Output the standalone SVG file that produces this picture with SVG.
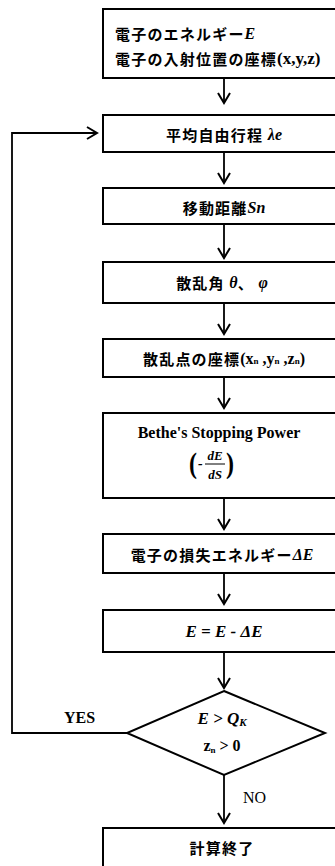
<svg xmlns="http://www.w3.org/2000/svg" width="335" height="866" viewBox="0 0 335 866">
<style>
.box{fill:#fff;stroke:#000;stroke-width:2}
.ln{fill:none;stroke:#000;stroke-width:1.8}
.jp{font-family:"Noto Sans CJK JP",sans-serif;font-weight:700;font-size:15px;letter-spacing:1.2px;fill:#000}
.m{font-family:"Liberation Serif",serif;font-weight:700;font-style:italic;letter-spacing:0}
.r{font-family:"Liberation Serif",serif;font-weight:700;letter-spacing:0}
.lbl{font-family:"Liberation Serif",serif;font-size:16px;fill:#000}
</style>
<defs>
<marker id="ah" viewBox="-1 -7 12 14" markerWidth="12" markerHeight="14" refX="10" refY="0" orient="auto" markerUnits="userSpaceOnUse" overflow="visible">
<path d="M0,-6 L10,0 L0,6" fill="none" stroke="#000" stroke-width="2"/>
</marker>
</defs>
<rect width="335" height="866" fill="#fff"/>
<g id="connectors">
<line class="ln" x1="224" y1="78" x2="224" y2="103" marker-end="url(#ah)"/>
<line class="ln" x1="224" y1="152" x2="224" y2="183" marker-end="url(#ah)"/>
<line class="ln" x1="224" y1="224" x2="224" y2="258" marker-end="url(#ah)"/>
<line class="ln" x1="224" y1="303" x2="224" y2="334" marker-end="url(#ah)"/>
<line class="ln" x1="224" y1="377" x2="224" y2="408" marker-end="url(#ah)"/>
<line class="ln" x1="224" y1="498" x2="224" y2="529" marker-end="url(#ah)"/>
<line class="ln" x1="224" y1="573" x2="224" y2="604" marker-end="url(#ah)"/>
<line class="ln" x1="224" y1="652" x2="224" y2="688" marker-end="url(#ah)"/>
<line class="ln" x1="224" y1="775" x2="224" y2="823" marker-end="url(#ah)"/>
<polyline class="ln" points="127,733 12,733 12,133 97,133" marker-end="url(#ah)"/>
<text class="lbl" x="64" y="723" font-weight="700" font-size="15">YES</text>
<text class="lbl" x="243" y="803" font-size="17">NO</text>
</g>
<g id="n1">
<rect class="box" x="103" y="9" width="245" height="69"/>
<text class="jp" x="115" y="33" dominant-baseline="central">電子のエネルギー<tspan class="m" font-size="16">E</tspan></text>
<text class="jp" x="115" y="58" dominant-baseline="central">電子の入射位置の座標<tspan class="r" font-size="17">(x,y,z)</tspan></text>
</g>
<g id="n2">
<rect class="box" x="103" y="115" width="245" height="37"/>
<text class="jp" x="224" y="134" text-anchor="middle" dominant-baseline="central">平均自由行程 <tspan class="m" font-size="16">λe</tspan></text>
</g>
<g id="n3">
<rect class="box" x="103" y="188" width="245" height="36"/>
<text class="jp" x="224" y="207" text-anchor="middle" dominant-baseline="central">移動距離<tspan class="m" font-size="16">Sn</tspan></text>
</g>
<g id="n4">
<rect class="box" x="103" y="262" width="245" height="41"/>
<text class="jp" x="222" y="282" text-anchor="middle" dominant-baseline="central">散乱角 <tspan class="m" font-size="16">θ</tspan>、 <tspan class="m" font-size="16">φ</tspan></text>
</g>
<g id="n5">
<rect class="box" x="103" y="339" width="245" height="38"/>
<text class="jp" x="224" y="358" text-anchor="middle" dominant-baseline="central">散乱点の座標<tspan class="r" font-size="16">(x<tspan font-size="9" dy="3">n</tspan><tspan dy="-3"> ,y</tspan><tspan font-size="9" dy="3">n</tspan><tspan dy="-3"> ,z</tspan><tspan font-size="9" dy="3">n</tspan><tspan dy="-3">)</tspan></tspan></text>
</g>
<g id="n6">
<rect class="box" x="103" y="413" width="245" height="85"/>
<text class="r" x="219" y="438" font-size="16" text-anchor="middle">Bethe's Stopping Power</text>
<text class="r" x="189" y="473" font-size="30" font-weight="400" transform="translate(189 473) scale(0.8 1) translate(-189 -473)">(</text>
<text class="m" x="198" y="468" font-size="14">-</text>
<text class="m" x="215" y="460" font-size="13" text-anchor="middle">dE</text>
<line x1="205" y1="464" x2="225" y2="464" stroke="#000" stroke-width="1"/>
<text class="m" x="215" y="479" font-size="13" text-anchor="middle">dS</text>
<text class="r" x="226" y="473" font-size="30" font-weight="400" transform="translate(226 473) scale(0.8 1) translate(-226 -473)">)</text>
</g>
<g id="n7">
<rect class="box" x="103" y="534" width="245" height="39"/>
<text class="jp" x="222" y="554" text-anchor="middle" dominant-baseline="central">電子の損失エネルギー<tspan class="m" font-size="16">ΔE</tspan></text>
</g>
<g id="n8">
<rect class="box" x="103" y="610" width="245" height="42"/>
<text class="m" x="224" y="637" font-size="17" text-anchor="middle">E = E -  ΔE</text>
</g>
<g id="n9">
<polygon class="box" points="224,691 325,733 224,775 127,733"/>
<text class="m" x="222" y="724" font-size="17" text-anchor="middle">E &gt; Q<tspan font-size="11" dy="2">K</tspan></text>
<text class="r" x="222" y="751" font-size="16" text-anchor="middle">z<tspan font-size="9" dy="2">n</tspan><tspan dy="-2"> &gt; 0</tspan></text>
</g>
<g id="n10">
<rect class="box" x="103" y="828" width="245" height="50"/>
<text class="jp" x="222" y="847" font-size="14" text-anchor="middle" dominant-baseline="central">計算終了</text>
</g>
</svg>
